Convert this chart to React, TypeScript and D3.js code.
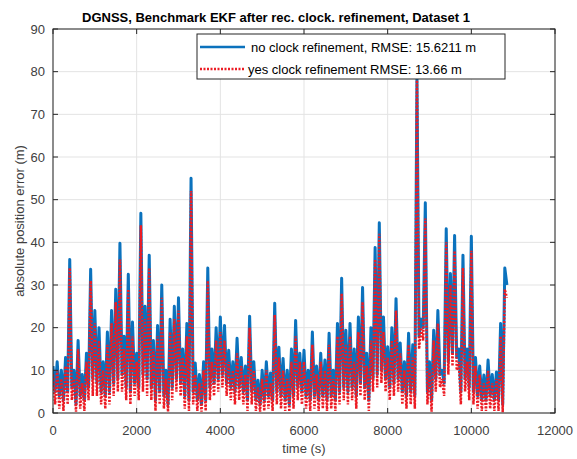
import React from "react";
import * as d3 from "d3";

// time bins (s): each bin holds an upper and a lower reading of the error band
const binTimes = d3.range(0, 10801, 100);

const noRefHi = [11,12,10,13,36,10,17,9,14,33.7,24,20,12,19,24,29,39.8,18,32.5,21.3,14,46.8,25,37,17,20.5,30,10,22,25,27,15,21,55,11.7,9,12,34,15,20,22.5,20.5,14.7,12,17.5,13,11,22.7,12,7.7,10,12,9.4,25.7,15.4,12.8,10,15,21.7,14,14.7,10,19,11,14,12.4,18.7,10,21,31.6,19.4,21,15,22.5,29.4,14,20,38.8,44.6,22.5,15.5,20,26.8,16.4,12,18.7,16,79,22,49.3,12,19.4,24,10,43.2,32.7,41.6,15,37,15,41.4,13,11,8.9,12.4,9,9.6,21,34];
const noRefLo = [5,4,3,5,6,2,4,3,6,8,7,5,4,5,7,8,9,6,5,7,6,9,8,6,3,5,4,2,6,8,7,4,3,5,3,2,3,6,7,8,9,7,6,5,6,5,3,5,3,2,3,4,3,5,4,3,2,4,6,5,4,3,4,3,4,3,4,3,5,6,5,6,4,7,6,3,8,9,10,8,6,7,8,5,4,5,4,18,20,5,3,8,9,7,12,14,13,5,8,6,5,4,3,3,4,3,3,2,30];
const yesRefHi = [9,10,8,11,34,8,15,7,12,31,21,17,10,16,21,26,36,15,29,18,12,44,22,34,15,18,27,8,19,22,24,13,18,52,9,7,10,31,12,17,19,17,12,10,14,11,9,20,10,6,8,10,7,23,13,10,8,12,18,12,12,8,16,9,12,10,16,8,18,28,16,18,12,19,26,11,17,36,42,19,13,17,24,14,10,16,13,78,20,45.6,10,17,21,8,40,30,38,12,34,12,38,11,9,7,10,7,8,18,29];
const yesRefLo = [2,1,0.5,2,3,0.3,1,0.5,3,4,4,2,1,2,4,5,5,3,2,4,3,5,4,3,0.5,2,1,0.3,3,5,4,1,0.5,2,0.5,0.3,0.5,3,4,5,6,4,3,2,3,2,0.5,2,0.5,0.3,0.5,1,0.5,2,1,0.5,0.3,1,3,2,1,0.5,1,0.5,1,0.5,1,0.5,2,3,2,3,1,4,3,0.5,5,6,7,5,3,4,5,2,1,2,1,15,17,2,0.3,5,6,4,9,11,10,2,5,3,2,1,0.5,0.5,1,0.5,0.5,0.2,27];

const xTicks = [0, 2000, 4000, 6000, 8000, 10000, 12000];
const yTicks = [0, 10, 20, 30, 40, 50, 60, 70, 80, 90];

const titleText = "DGNSS, Benchmark EKF after rec. clock. refinement, Dataset 1";
const seriesNames = [
  "no clock refinement, RMSE: 15.6211 m",
  "yes clock refinement RMSE: 13.66 m",
];

const W = 577;
const H = 459;
const m = { left: 53, right: 555, top: 29, bottom: 413 };
const FONT = "Liberation Sans, Arial, Helvetica, sans-serif";
const BLUE = "#0b72bd";
const RED = "#ec1c24";
const AX = "#262626";

function band(hi: number[], lo: number[]): [number, number][] {
  const n = Math.min(hi.length, lo.length, binTimes.length);
  const pts: [number, number][] = [];
  for (let i = 0; i < n; i++) {
    pts.push([binTimes[i], hi[i]]);
    pts.push([binTimes[i] + 50, lo[i]]);
  }
  return pts;
}

export default function App() {
  const x = d3.scaleLinear().domain([0, 12000]).range([m.left, m.right]);
  const y = d3.scaleLinear().domain([0, 90]).range([m.bottom, m.top]);
  const line = d3
    .line<[number, number]>()
    .x((d) => x(d[0]))
    .y((d) => y(d[1]));

  const blueD = line(band(noRefHi, noRefLo)) || "";
  const redD = line(band(yesRefHi, yesRefLo)) || "";

  const tl = 5;
  const legX = 197, legY = 34, legW = 308, legH = 45;

  return (
    <svg width={W} height={H} style={{ position: "absolute", left: 0, top: 0, background: "#fff" }} fontFamily={FONT}>
      <rect x={0} y={0} width={W} height={H} fill="#fff" />
      <clipPath id="plotclip">
        <rect x={m.left} y={m.top} width={m.right - m.left} height={m.bottom - m.top} />
      </clipPath>
      {/* grid */}
      {xTicks.map((t) => (
        <line key={"gx" + t} x1={x(t)} x2={x(t)} y1={m.top} y2={m.bottom} stroke="#e3e3e3" strokeWidth={1} />
      ))}
      {yTicks.map((t) => (
        <line key={"gy" + t} x1={m.left} x2={m.right} y1={y(t)} y2={y(t)} stroke="#e3e3e3" strokeWidth={1} />
      ))}
      {/* data */}
      <g clipPath="url(#plotclip)">
        <path d={blueD} fill="none" stroke={BLUE} strokeWidth={3} strokeLinejoin="round" />
        <path d={redD} fill="none" stroke={RED} strokeWidth={2.5} strokeDasharray="2,1.5" />
      </g>
      {/* axes box */}
      <rect x={m.left} y={m.top} width={m.right - m.left} height={m.bottom - m.top} fill="none" stroke={AX} strokeWidth={1} />
      {xTicks.map((t) => (
        <g key={"tx" + t}>
          <line x1={x(t)} x2={x(t)} y1={m.bottom} y2={m.bottom - tl} stroke={AX} />
          <line x1={x(t)} x2={x(t)} y1={m.top} y2={m.top + tl} stroke={AX} />
          <text x={x(t)} y={435} fontSize={13} textAnchor="middle" fill="#404040">{t}</text>
        </g>
      ))}
      {yTicks.map((t) => (
        <g key={"ty" + t}>
          <line x1={m.left} x2={m.left + tl} y1={y(t)} y2={y(t)} stroke={AX} />
          <line x1={m.right} x2={m.right - tl} y1={y(t)} y2={y(t)} stroke={AX} />
          <text x={m.left - 8} y={y(t) + 4.5} fontSize={13} textAnchor="end" fill="#404040">{t}</text>
        </g>
      ))}
      {/* labels */}
      <text x={(m.left + m.right) / 2} y={453} fontSize={13} textAnchor="middle" fill="#404040">time (s)</text>
      <text transform={`translate(24,${(m.top + m.bottom) / 2}) rotate(-90)`} fontSize={13} textAnchor="middle" fill="#404040">
        absolute position error (m)
      </text>
      <text x={276} y={22} fontSize={13} fontWeight="bold" textAnchor="middle" fill="#000" textLength={388} lengthAdjust="spacingAndGlyphs">
        {titleText}
      </text>
      {/* legend */}
      <rect x={legX} y={legY} width={legW} height={legH} fill="#fff" stroke={AX} strokeWidth={1} />
      <line x1={200} x2={245} y1={47} y2={47} stroke={BLUE} strokeWidth={2.5} />
      <line x1={200} x2={245} y1={69} y2={69} stroke={RED} strokeWidth={2.5} strokeDasharray="2,1.5" />
      <text x={251} y={51.5} fontSize={13} fill="#000">{seriesNames[0]}</text>
      <text x={248} y={73.5} fontSize={13} fill="#000">{seriesNames[1]}</text>
    </svg>
  );
}
